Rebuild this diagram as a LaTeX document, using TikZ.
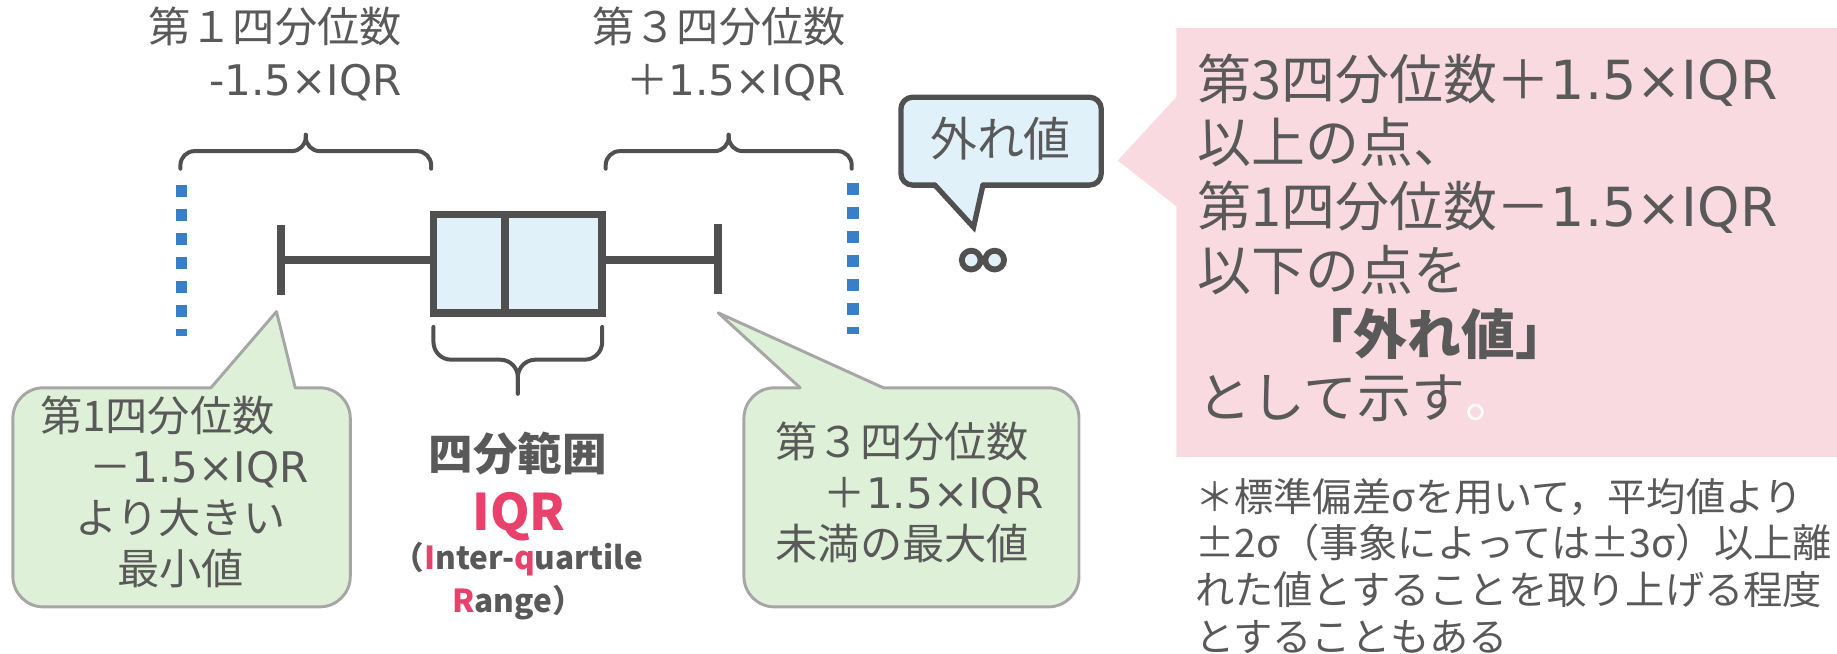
\documentclass[tikz,border=0pt]{standalone}
\usepackage{fontspec}
\setmainfont{Noto Sans CJK JP}
\newfontfamily\latf{DejaVu Sans}
\usepackage{tikz}
\definecolor{txtgray}{HTML}{595959}
\definecolor{linegray}{HTML}{505050}
\definecolor{boxblue}{HTML}{E1F1F9}
\definecolor{dotblue}{HTML}{3A7EC6}
\definecolor{calgreen}{HTML}{DEF0D7}
\definecolor{calgray}{HTML}{A6A6A6}
\definecolor{notepink}{HTML}{F9DAE1}
\definecolor{iqrred}{HTML}{E8416B}
\newcommand{\fsz}[2]{\fontsize{#1}{#2}\selectfont}
\newcommand{\rd}[1]{{\color{iqrred}#1}}
\newcommand{\iqrs}{{\latf 1.5×IQR}}

\begin{document}
\begin{tikzpicture}[line cap=round,line join=round,x=1pt,y=-1pt,
  lbl/.style={inner sep=0pt,text=txtgray},
  brc/.style={draw=linegray,line width=3.4pt},
  bxln/.style={draw=linegray,line width=6.5pt,line cap=butt,line join=miter},
  dots/.style={draw=dotblue,line width=10pt,line cap=butt,dash pattern=on 10.3pt off 10.2pt},
  caledge/.style={draw=calgray,line width=2.5pt},
  outedge/.style={draw=linegray,line width=4.5pt}]
\useasboundingbox (0,0) rectangle (1568,558);
\draw[brc,rounded corners=12pt] (154,144) -- (154,129) -- (261,129) -- (261,115);
\draw[brc,rounded corners=12pt] (368,144) -- (368,129) -- (261,129) -- (261,115);
\draw[brc,rounded corners=12pt] (517,144) -- (517,129) -- (622,129) -- (622,115);
\draw[brc,rounded corners=12pt] (727,144) -- (727,129) -- (622,129) -- (622,115);
\draw[brc,rounded corners=15pt] (370,279) -- (370,307) -- (442,307) -- (442,336);
\draw[brc,rounded corners=15pt] (514,279) -- (514,307) -- (442,307) -- (442,336);
\draw[dots] (155,158) -- (155,287);
\draw[dots] (728,156) -- (728,285);
\draw[bxln] (240,222) -- (370,222);
\draw[bxln] (514,222) -- (613,222);
\draw[bxln] (240,192) -- (240,252);
\draw[bxln] (613,191) -- (613,251);
\filldraw[bxln,fill=boxblue] (370,183) rectangle (514,267);
\draw[bxln] (431,183) -- (431,267);
\coordinate (locap) at (236,266);
\coordinate (hicap) at (613,267);
\fill[calgreen,rounded corners=26pt] (11,331) rectangle (299,518);
\fill[calgreen] (180,336) -- (180,331) -- (locap) -- (252,331) -- (252,336) -- cycle;
\draw[caledge,rounded corners=26pt] (180,331) -- (11,331) -- (11,518) -- (299,518) -- (299,331) -- (252,331);
\draw[caledge] (252,331) -- (locap) -- (180,331);
\fill[calgreen,rounded corners=26pt] (635,331) rectangle (921,518);
\fill[calgreen] (683,336) -- (683,331) -- (hicap) -- (754,331) -- (754,336) -- cycle;
\draw[caledge,rounded corners=26pt] (683,331) -- (635,331) -- (635,518) -- (921,518) -- (921,331) -- (754,331);
\draw[caledge] (754,331) -- (hicap) -- (683,331);
\coordinate (outpt) at (831,194);
\fill[boxblue,rounded corners=10pt] (769,83) rectangle (940,158);
\fill[boxblue] (798,152) -- (798,158) -- (outpt) -- (839,158) -- (839,152) -- cycle;
\draw[outedge,rounded corners=10pt] (798,158) -- (769,158) -- (769,83) -- (940,83) -- (940,158) -- (839,158);
\draw[outedge,line join=miter] (839,158) -- (outpt) -- (798,158);
\fill[boxblue] (829,222) circle (8pt) (849,222) circle (8pt);
\draw[outedge,line width=5pt] (829,222) circle (8pt) (849,222) circle (8pt);
\fill[notepink] (1004,24) -- (1568,24) -- (1568,390) -- (1004,390) -- (1004,176) -- (954,137) -- (1004,83) -- cycle;
\node[lbl,anchor=east,align=right,font=\fsz{36}{45}] (q1lbl) at (343,46) {第１四分位数\\{\latf -}\iqrs};
\node[lbl,anchor=east,align=right,font=\fsz{36}{45}] (q3lbl) at (722,46) {第３四分位数\\＋\iqrs};
\node[lbl,anchor=west,align=left,font=\fsz{36}{43.5}] (lotxt) at (34,420) {第1四分位数\\\hspace*{42pt}－\iqrs\\\hspace*{30pt}より大きい\\\hspace*{66pt}最小値};
\node[lbl,anchor=west,align=left,font=\fsz{36}{43.5}] (hitxt) at (662,420.5) {第３四分位数\\\hspace*{41pt}＋\iqrs\\未満の最大値};
\node[lbl,font=\fsz{38}{46}\bfseries] (iqrjp) at (442,387) {四分範囲};
\node[inner sep=0pt,text=iqrred,font=\fsz{43}{50}\bfseries] (iqr) at (443,441) {IQR};
\node[lbl,align=center,font=\fsz{27}{36}\bfseries] (iqren) at (442,496) {（\rd{I}nter-\rd{q}uartile\\\rd{R}ange）};
\node[lbl,font=\fsz{40}{48}] (outtxt) at (854,118) {外れ値};
\node[lbl,anchor=west,align=left,font=\fsz{46}{54.4}] (rule) at (1022,203) {第3四分位数＋\iqrs\\以上の点、\\第1四分位数－\iqrs\\以下の点を\\\hspace*{87pt}{\bfseries 「外れ値」}\\として示す{\color{white}。}};
\node[lbl,anchor=west,align=left,font=\fsz{33.5}{40}] (note) at (1020,483) {＊標準偏差σを用いて，平均値より\\±2σ（事象によっては±3σ）以上離\\れた値とすることを取り上げる程度\\とすることもある};
\end{tikzpicture}
\end{document}
